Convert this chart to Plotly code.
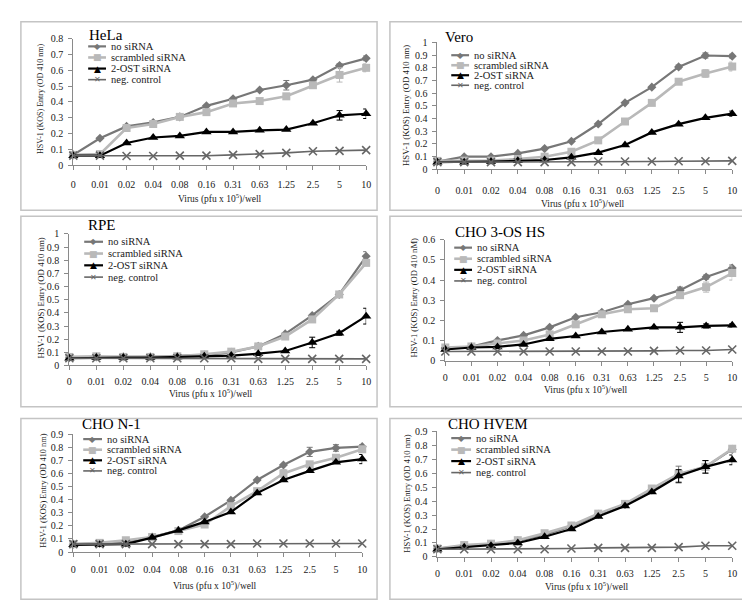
import plotly.graph_objects as go

W, H = 750, 605

# ---------------- data ----------------
x_labels = ["0", "0.01", "0.02", "0.04", "0.08", "0.16", "0.31", "0.63", "1.25", "2.5", "5", "10"]
series_names = ["no siRNA", "scrambled siRNA", "2-OST siRNA", "neg. control"]
panel_titles = ["HeLa", "Vero", "RPE", "CHO 3-OS HS", "CHO N-1", "CHO HVEM"]
y_titles = ["HSV-1 (KOS) Entry (OD 410 nm)", "HSV-1 (KOS) Entry (OD 410 nm)",
            "HSV-1 (KOS) Entry (OD 410 nm)", "HSV-1 (KOS) Entry (OD 410 nM)",
            "HSV-1 (KOS) Entry (OD 410 nm)", "HSV-1 (KOS) Entry (OD 410 nm)"]
x_title = "Virus (pfu x 10<sup>5</sup>)/well"
y_max = [0.8, 1.0, 1.0, 0.6, 0.9, 0.9]

hela_no = [0.065, 0.17, 0.245, 0.27, 0.305, 0.375, 0.42, 0.475, 0.505, 0.54, 0.63, 0.675]
hela_scr = [0.065, 0.07, 0.235, 0.26, 0.305, 0.335, 0.39, 0.405, 0.435, 0.505, 0.57, 0.615]
hela_ost = [0.06, 0.06, 0.14, 0.175, 0.185, 0.21, 0.21, 0.22, 0.225, 0.265, 0.315, 0.325]
hela_neg = [0.06, 0.06, 0.058, 0.058, 0.06, 0.06, 0.065, 0.07, 0.078, 0.088, 0.09, 0.095]
hela_no_err = [0, 0, 0, 0, 0, 0, 0, 0, 0.03, 0, 0.01, 0.015]
hela_scr_err = [0, 0, 0, 0, 0, 0, 0, 0, 0, 0, 0.045, 0.025]
hela_ost_err = [0, 0, 0, 0, 0, 0, 0, 0, 0, 0, 0.03, 0.03]

vero_no = [0.06, 0.098, 0.098, 0.124, 0.162, 0.22, 0.356, 0.523, 0.647, 0.807, 0.897, 0.892]
vero_scr = [0.065, 0.067, 0.067, 0.08, 0.098, 0.137, 0.227, 0.376, 0.523, 0.69, 0.755, 0.81]
vero_ost = [0.055, 0.055, 0.06, 0.065, 0.072, 0.093, 0.13, 0.19, 0.29, 0.355, 0.405, 0.438]
vero_neg = [0.055, 0.055, 0.055, 0.055, 0.055, 0.055, 0.06, 0.06, 0.06, 0.062, 0.062, 0.065]
vero_no_err = [0, 0, 0, 0, 0, 0, 0, 0, 0, 0.015, 0.02, 0.015]
vero_scr_err = [0, 0, 0, 0, 0, 0, 0, 0, 0, 0, 0.03, 0.035]
vero_ost_err = [0, 0, 0, 0, 0, 0, 0, 0, 0, 0, 0, 0.02]

rpe_no = [0.06, 0.065, 0.065, 0.065, 0.07, 0.08, 0.1, 0.145, 0.24, 0.38, 0.54, 0.83]
rpe_scr = [0.065, 0.07, 0.065, 0.065, 0.07, 0.085, 0.105, 0.145, 0.22, 0.35, 0.54, 0.78]
rpe_ost = [0.055, 0.06, 0.06, 0.06, 0.065, 0.07, 0.075, 0.09, 0.11, 0.175, 0.245, 0.375]
rpe_neg = [0.055, 0.055, 0.055, 0.055, 0.055, 0.055, 0.055, 0.05, 0.05, 0.05, 0.05, 0.05]
rpe_no_err = [0, 0, 0, 0, 0, 0, 0, 0, 0, 0, 0.015, 0.035]
rpe_scr_err = [0, 0, 0, 0, 0, 0, 0, 0, 0, 0, 0, 0.02]
rpe_ost_err = [0, 0, 0, 0, 0, 0, 0, 0, 0, 0.04, 0.015, 0.06]

cho3_no = [0.06, 0.07, 0.1, 0.125, 0.165, 0.215, 0.24, 0.28, 0.31, 0.35, 0.415, 0.46]
cho3_scr = [0.065, 0.07, 0.085, 0.1, 0.13, 0.18, 0.23, 0.255, 0.26, 0.325, 0.365, 0.435]
cho3_ost = [0.055, 0.065, 0.068, 0.08, 0.108, 0.122, 0.142, 0.155, 0.165, 0.165, 0.172, 0.175]
cho3_neg = [0.045, 0.045, 0.045, 0.045, 0.045, 0.045, 0.045, 0.045, 0.048, 0.05, 0.05, 0.055]
cho3_no_err = [0, 0, 0, 0, 0, 0, 0, 0, 0, 0.015, 0.01, 0.015]
cho3_scr_err = [0, 0, 0, 0, 0, 0, 0, 0, 0, 0, 0.025, 0.035]
cho3_ost_err = [0, 0, 0, 0, 0, 0, 0, 0, 0, 0.025, 0.01, 0.008]

chon_no = [0.06, 0.065, 0.07, 0.115, 0.165, 0.27, 0.395, 0.55, 0.665, 0.765, 0.795, 0.805]
chon_scr = [0.06, 0.07, 0.09, 0.115, 0.16, 0.21, 0.35, 0.465, 0.6, 0.67, 0.72, 0.785]
chon_ost = [0.055, 0.055, 0.06, 0.11, 0.165, 0.23, 0.305, 0.45, 0.55, 0.62, 0.685, 0.71]
chon_neg = [0.06, 0.06, 0.06, 0.06, 0.06, 0.06, 0.06, 0.065, 0.065, 0.065, 0.065, 0.065]
chon_no_err = [0, 0, 0, 0, 0, 0, 0, 0, 0, 0.035, 0.025, 0.015]
chon_scr_err = [0, 0, 0, 0, 0, 0, 0, 0, 0.03, 0, 0, 0.02]
chon_ost_err = [0, 0, 0, 0, 0, 0, 0, 0, 0, 0, 0, 0.035]

hvem_no = [0.06, 0.08, 0.09, 0.115, 0.16, 0.22, 0.305, 0.375, 0.48, 0.59, 0.645, 0.77]
hvem_scr = [0.06, 0.085, 0.095, 0.12, 0.17, 0.225, 0.31, 0.38, 0.49, 0.595, 0.645, 0.775]
hvem_ost = [0.055, 0.07, 0.08, 0.1, 0.145, 0.2, 0.29, 0.365, 0.465, 0.58, 0.645, 0.695]
hvem_neg = [0.055, 0.055, 0.055, 0.055, 0.055, 0.06, 0.065, 0.065, 0.065, 0.07, 0.08, 0.08]
hvem_no_err = [0, 0, 0, 0, 0, 0, 0, 0, 0, 0.06, 0.045, 0.02]
hvem_scr_err = [0, 0, 0, 0, 0, 0, 0, 0, 0, 0, 0, 0.02]
hvem_ost_err = [0, 0, 0, 0, 0, 0, 0, 0, 0, 0.045, 0.045, 0.035]

panel_values = [
    (hela_no, hela_scr, hela_ost, hela_neg),
    (vero_no, vero_scr, vero_ost, vero_neg),
    (rpe_no, rpe_scr, rpe_ost, rpe_neg),
    (cho3_no, cho3_scr, cho3_ost, cho3_neg),
    (chon_no, chon_scr, chon_ost, chon_neg),
    (hvem_no, hvem_scr, hvem_ost, hvem_neg),
]
panel_errors = [
    (hela_no_err, hela_scr_err, hela_ost_err, None),
    (vero_no_err, vero_scr_err, vero_ost_err, None),
    (rpe_no_err, rpe_scr_err, rpe_ost_err, None),
    (cho3_no_err, cho3_scr_err, cho3_ost_err, None),
    (chon_no_err, chon_scr_err, chon_ost_err, None),
    (hvem_no_err, hvem_scr_err, hvem_ost_err, None),
]

# ---------------- styles / layout geometry (pixels) ----------------
FONT = "Liberation Serif"
TXT = "#1a1a1a"
AX = "#8a8a8a"
colors = ["#777777", "#b9b9b9", "#000000", "#666666"]
symbols = ["diamond", "square", "triangle-up", "x-thin-open"]
msizes = [7, 8, 9, 8]
lwidths = [2.2, 2.6, 2.2, 1.6]
legend_glyphs = ["\u25C6", "\u25A0", "\u25B2", "\u2715"]
glyph_sizes = [8, 9, 9, 8]

# plot-area: x of first/last category, y pixel of value 0 and of y_max
geo = [
    dict(box=(10, 9, 370, 201), xa=63, xb=359, y0=155, y1=26, stand=6,
         title=(77, 22), leg=(78, 96, 34, 11.3), ytl=(30, 88, 8.0), xtl=(211, 189)),
    dict(box=(383, 9, 742, 201), xa=431, xb=729, y0=159, y1=30, stand=8,
         title=(437, 24), leg=(445, 463, 43, 10.2), ytl=(400, 94, 8.8), xtl=(578, 194)),
    dict(box=(10, 207, 370, 401), xa=59, xb=359, y0=359, y1=225, stand=3,
         title=(76, 216), leg=(74, 93, 233, 12.0), ytl=(30, 290, 8.8), xtl=(202, 388)),
    dict(box=(383, 207, 742, 401), xa=439, xb=729, y0=354, y1=231, stand=3,
         title=(447, 223), leg=(448, 466, 239, 11.3), ytl=(407, 290, 8.6), xtl=(581, 383)),
    dict(box=(10, 413, 370, 597), xa=63, xb=355, y0=549, y1=429, stand=4,
         title=(70, 419), leg=(73, 92, 434, 10.8), ytl=(32, 487, 8.3), xtl=(206, 583)),
    dict(box=(383, 413, 742, 597), xa=431, xb=729, y0=554, y1=426, stand=3,
         title=(440, 419), leg=(445, 465, 433, 11.7), ytl=(400, 490, 8.6), xtl=(582, 584)),
]


def fx(p):
    return p / W


def fy(p):
    return 1 - p / H


fig = go.Figure()
layout = dict(width=W, height=H, margin=dict(l=0, r=0, t=0, b=0),
              paper_bgcolor="white", plot_bgcolor="white", showlegend=False,
              font=dict(family=FONT, color=TXT))
shapes, annotations = [], []
xcat = list(range(len(x_labels)))

for i, g in enumerate(geo):
    k = "" if i == 0 else str(i + 1)
    xa, ya = "x" + k, "y" + k
    layout["xaxis" + k] = dict(
        domain=[fx(g["xa"]), fx(g["xb"])], range=[0, len(x_labels) - 1], anchor=ya,
        tickmode="array", tickvals=xcat, ticktext=x_labels,
        showline=True, linecolor=AX, linewidth=1, ticks="outside", ticklen=4,
        tickcolor=AX, showgrid=False, zeroline=False,
        tickfont=dict(size=10, family=FONT, color=TXT), ticklabelstandoff=g["stand"])
    layout["yaxis" + k] = dict(
        domain=[fy(g["y0"]), fy(g["y1"])], range=[0, y_max[i] * 1.0001], anchor=xa,
        dtick=0.1, tick0=0, showline=True, linecolor=AX, linewidth=1,
        ticks="outside", ticklen=4, tickcolor=AX, showgrid=False, zeroline=False,
        tickfont=dict(size=10, family=FONT, color=TXT), ticklabelstandoff=3)

    for s in range(4):
        err = panel_errors[i][s]
        tr = dict(x=xcat, y=panel_values[i][s], xaxis=xa, yaxis=ya, mode="lines+markers",
                  name=series_names[s], cliponaxis=False,
                  line=dict(color=colors[s], width=lwidths[s]),
                  marker=dict(symbol=symbols[s], size=msizes[s], color=colors[s],
                              line=dict(color=colors[s], width=1.6 if s == 3 else 0)))
        if err is not None:
            tr["error_y"] = dict(type="data", array=err, visible=True, color=colors[s],
                                 thickness=1, width=3)
        fig.add_trace(go.Scatter(**tr))

    bx0, by0, bx1, by1 = g["box"]
    shapes.append(dict(type="rect", xref="paper", yref="paper", x0=fx(bx0), x1=fx(bx1),
                       y0=fy(by1), y1=fy(by0), line=dict(color="#c4c4c4", width=1.5),
                       fillcolor="rgba(0,0,0,0)", layer="below"))
    tx, ty = g["title"]
    annotations.append(dict(xref="paper", yref="paper", x=fx(tx), y=fy(ty), text=panel_titles[i],
                            xanchor="left", yanchor="middle", showarrow=False,
                            font=dict(size=15, family=FONT, color="#000")))
    # manual legend
    lx0, lx1, ly, dy = g["leg"]
    for s in range(4):
        yy = ly + dy * s
        shapes.append(dict(type="line", xref="paper", yref="paper", x0=fx(lx0), x1=fx(lx1),
                           y0=fy(yy), y1=fy(yy), line=dict(color=colors[s], width=lwidths[s])))
        annotations.append(dict(xref="paper", yref="paper", x=fx((lx0 + lx1) / 2), y=fy(yy),
                                text=legend_glyphs[s], showarrow=False, xanchor="center",
                                yanchor="middle", borderpad=0,
                                font=dict(size=glyph_sizes[s], family="DejaVu Sans", color=colors[s])))
        annotations.append(dict(xref="paper", yref="paper", x=fx(lx1 + 4), y=fy(yy),
                                text=series_names[s], showarrow=False, xanchor="left",
                                yanchor="middle", borderpad=0,
                                font=dict(size=10.5, family=FONT, color=TXT)))
    yx, yy_, ysz = g["ytl"]
    annotations.append(dict(xref="paper", yref="paper", x=fx(yx), y=fy(yy_), text=y_titles[i],
                            textangle=-90, showarrow=False, xanchor="center", yanchor="middle",
                            font=dict(size=ysz, family=FONT, color=TXT)))
    xx, xy = g["xtl"]
    annotations.append(dict(xref="paper", yref="paper", x=fx(xx), y=fy(xy), text=x_title,
                            showarrow=False, xanchor="center", yanchor="middle", borderpad=0,
                            font=dict(size=9.5, family=FONT, color=TXT)))

layout["shapes"] = shapes
layout["annotations"] = annotations
fig.update_layout(**layout)
fig.write_html("out.html")
